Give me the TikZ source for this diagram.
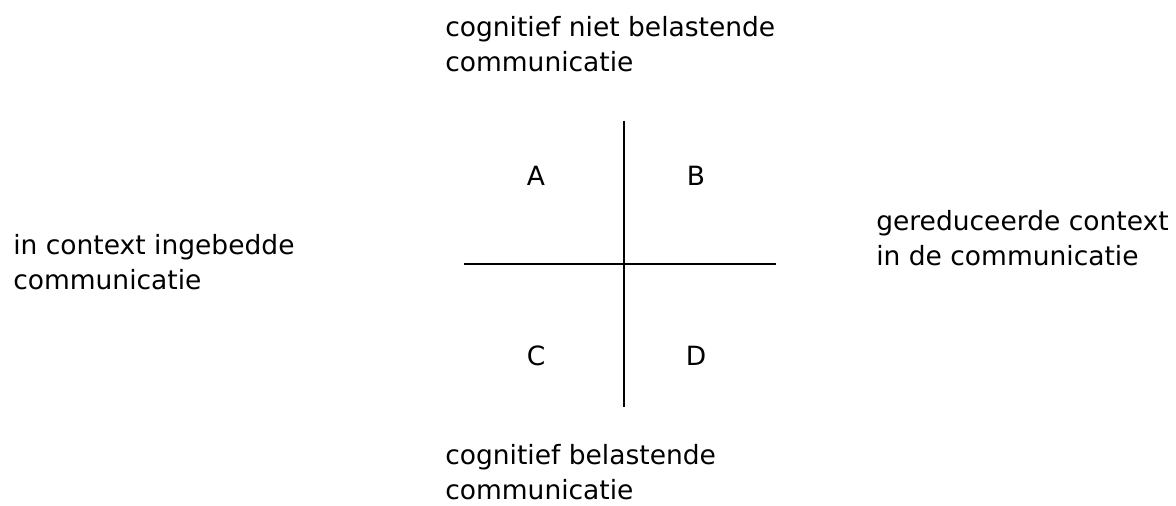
\documentclass[tikz,border=0pt]{standalone}
\usepackage{fontspec}
\setmainfont{DejaVu Sans}
\usepackage{tikz}
\usetikzlibrary{positioning}

\begin{document}
\begin{tikzpicture}[
    lbl/.style={inner sep=0pt,align=left,anchor=base west,
                font=\fontsize{18.85}{24.9}\selectfont},
    quad/.style={inner sep=0pt,anchor=base,font=\fontsize{18.85}{24.9}\selectfont},
    axis/.style={line width=1.4pt},
  ]
  \useasboundingbox (0,0) rectangle (29.4,12.65);

  \coordinate (top) at (15.6,9.625);
  \coordinate (bot) at (15.6,2.475);
  \coordinate (lft) at (11.6,6.05);
  \coordinate (rgt) at (19.4,6.05);

  \node[quad] (qa) at (13.4,8.0) {A};
  \node[quad] (qb) at (17.4,8.0) {B};
  \node[quad] (qc) at (13.4,3.5) {C};
  \node[quad] (qd) at (17.4,3.5) {D};

  % base = baseline of the last line
  \node[lbl] (niet) at (11.125,10.85) {cognitief niet belastende\\communicatie};
  \node[lbl] (bel)  at (11.125,0.15)  {cognitief belastende\\communicatie};
  \node[lbl] (ing)  at (0.325,5.42)   {in context ingebedde\\communicatie};
  \node[lbl] (red)  at (21.9,6.0)     {gereduceerde context\\in de communicatie};

  \draw[axis] (top) -- (bot);
  \draw[axis] (lft) -- (rgt);
\end{tikzpicture}
\end{document}
